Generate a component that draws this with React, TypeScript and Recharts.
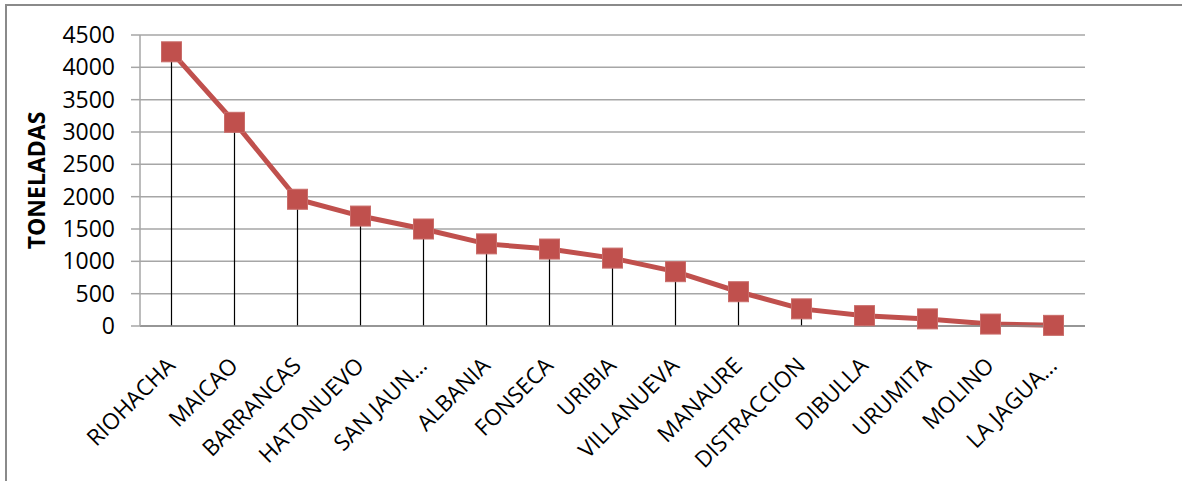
import React from 'react';
import { ComposedChart, Line, Bar, XAxis, YAxis, CartesianGrid } from 'recharts';

const municipios = ['RIOHACHA', 'MAICAO', 'BARRANCAS', 'HATONUEVO', 'SAN JAUN…', 'ALBANIA', 'FONSECA', 'URIBIA', 'VILLANUEVA', 'MANAURE', 'DISTRACCION', 'DIBULLA', 'URUMITA', 'MOLINO', 'LA JAGUA…'];
const toneladas = [4240, 3150, 1960, 1700, 1500, 1270, 1190, 1050, 840, 530, 265, 160, 110, 30, 10];
const yTicks = [0, 500, 1000, 1500, 2000, 2500, 3000, 3500, 4000, 4500];

const data = municipios.map((m, i) => ({ name: m, value: toneladas[i] }));

const FONT = '"Open Sans", Calibri, sans-serif';
const RED = '#c0504d';

const SquareDot = (props: any) => {
  const { cx, cy } = props;
  if (cx == null || cy == null) return null;
  return <rect x={cx - 10} y={cy - 10} width={20} height={20} fill={RED} stroke="#c96c69" strokeWidth={1} />;
};

const DropLine = (props: any) => {
  const { x, y, width, height } = props;
  const mx = x + width / 2;
  return <line x1={mx} y1={y} x2={mx} y2={y + height} stroke="#000" strokeWidth={1.2} />;
};

const XTick = (props: any) => {
  const { x, y, payload } = props;
  const px = x + 5;
  const py = y + 33;
  return (
    <text x={px} y={py} textAnchor="end" fontFamily={FONT} fontSize={22.5} fill="#000" transform={`rotate(-45, ${px}, ${py})`}>
      {payload.value}
    </text>
  );
};

const YLabel = (props: any) => {
  const { viewBox } = props;
  const cx = 45;
  const cy = viewBox.y + viewBox.height / 2;
  return (
    <text x={cx} y={cy} textAnchor="middle" fontFamily={FONT} fontWeight="bold" fontSize={23} fill="#000" transform={`rotate(-90, ${cx}, ${cy})`}>
      TONELADAS
    </text>
  );
};

export default function App() {
  return (
    <div style={{ position: 'absolute', left: 0, top: 0, width: 1182, height: 481, overflow: 'hidden', background: '#fff' }}>
      <div style={{ position: 'absolute', left: 5, top: 4, width: 1250, height: 550, border: '2px solid #8a8a8a', boxSizing: 'border-box' }} />
      <div style={{ position: 'absolute', left: 0, top: 0 }}>
        <ComposedChart width={1182} height={481} data={data} margin={{ top: 35, right: 97, bottom: 0, left: 0 }}>
          <CartesianGrid horizontal={true} vertical={false} stroke="#a6a6a6" strokeWidth={1.5} />
          <XAxis
            dataKey="name"
            height={155}
            tickLine={false}
            axisLine={{ stroke: '#8a8a8a', strokeWidth: 1.5 }}
            interval={0}
            tick={<XTick />}
          />
          <YAxis
            width={140}
            domain={[0, 4500]}
            ticks={yTicks}
            interval={0}
            tickSize={9}
            tickMargin={16}
            tickLine={{ stroke: '#a6a6a6', strokeWidth: 1.5 }}
            axisLine={{ stroke: '#a6a6a6', strokeWidth: 1.5 }}
            tick={{ fontFamily: FONT, fontSize: 23, fill: '#000' }}
            label={<YLabel />}
          />
          <Line
            type="linear"
            dataKey="value"
            stroke={RED}
            strokeWidth={5}
            dot={<SquareDot />}
            activeDot={false}
            isAnimationActive={false}
          />
          <Bar dataKey="value" barSize={1} shape={<DropLine />} isAnimationActive={false} />
        </ComposedChart>
      </div>
    </div>
  );
}
